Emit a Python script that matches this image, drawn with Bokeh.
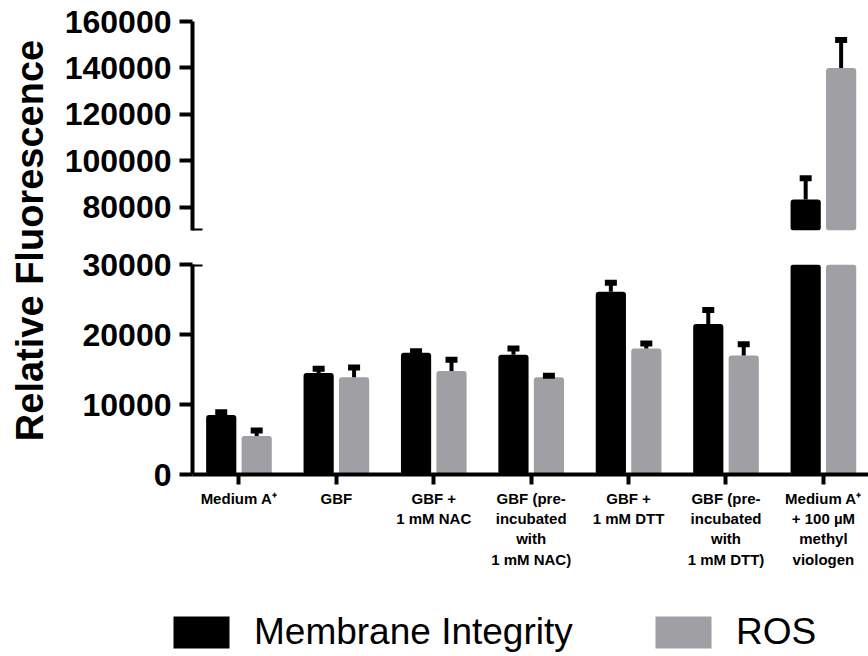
from bokeh.plotting import figure
from bokeh.models import (Range1d, FixedTicker, ColumnDataSource, Label, Legend,
                          LegendItem, BoxAnnotation, NumeralTickFormatter)
from bokeh.layouts import row, column
from bokeh.embed import file_html
from bokeh.resources import INLINE

# ---------------- data ----------------
categories = [
    "Medium A\u207a",
    "GBF",
    "GBF +\n1 mM NAC",
    "GBF (pre-\nincubated\nwith\n1 mM NAC)",
    "GBF +\n1 mM DTT",
    "GBF (pre-\nincubated\nwith\n1 mM DTT)",
    "Medium A\u207a\n+ 100 \u00b5M\nmethyl\nviologen",
]
membrane = [8500, 14500, 17400, 17100, 26100, 21500, 83300]
membrane_err = [400, 600, 200, 900, 1300, 2000, 9200]
ros = [5500, 13900, 14800, 13900, 18000, 17000, 140000]
ros_err = [800, 1400, 1600, 200, 700, 1600, 12000]
series_names = ["Membrane Integrity", "ROS"]
series_colors = ["#000000", "#A0A0A4"]
lower_ticks = [0, 10000, 20000, 30000]
upper_ticks = [80000, 100000, 120000, 140000, 160000]
lower_range = (0, 30000)
upper_range = (70000, 160000)
y_label = "Relative Fluorescence"

idx = list(range(len(categories)))
offsets = [-0.182, 0.182]
FONT = "Liberation Sans"


def make_source(vals, errs, off, ymin):
    keep = [i for i in idx if vals[i] + errs[i] > ymin]
    return dict(x=[i + off for i in keep],
                top=[vals[i] for i in keep],
                err_top=[vals[i] + errs[i] for i in keep])


def make_panel(h, yr, ticks, btop, bbot, with_xaxis):
    p = figure(width=810, height=h,
               x_range=Range1d(-0.477, 6.463), y_range=Range1d(*yr),
               output_backend="svg", toolbar_location=None,
               x_axis_location="below" if with_xaxis else None,
               min_border_left=134, min_border_right=0,
               min_border_top=btop, min_border_bottom=bbot)
    p.outline_line_color = None
    p.grid.visible = False
    p.background_fill_color = "white"
    p.border_fill_color = "white"

    srcs = [ColumnDataSource(make_source(membrane, membrane_err, offsets[0], yr[0])),
            ColumnDataSource(make_source(ros, ros_err, offsets[1], yr[0]))]
    for src, col in zip(srcs, series_colors):
        p.vbar(x="x", top="top", bottom=0, width=0.31, source=src,
               fill_color=col, line_color=None, border_radius=3)
    for src in srcs:
        p.segment(x0="x", y0="top", x1="x", y1="err_top", source=src,
                  line_color="black", line_width=4)
        p.rect(x="x", y="err_top", width=12, height=6, width_units="screen",
               height_units="screen", source=src, fill_color="black",
               line_color=None)

    ya = p.yaxis[0]
    ya.ticker = FixedTicker(ticks=ticks)
    ya.formatter = NumeralTickFormatter(format="0")
    ya.axis_line_width = 4
    ya.major_tick_line_width = 4
    ya.major_tick_out = 13
    ya.major_tick_in = 0
    ya.minor_tick_line_color = None
    ya.major_label_text_font = FONT
    ya.major_label_text_font_style = "bold"
    ya.major_label_text_font_size = "32px"
    ya.major_label_text_color = "black"
    ya.major_label_standoff = 8

    if with_xaxis:
        xa = p.xaxis[0]
        xa.ticker = FixedTicker(ticks=idx)
        xa.major_label_overrides = {i: c for i, c in zip(idx, categories)}
        xa.axis_line_width = 4
        xa.major_tick_line_width = 4
        xa.major_tick_out = 10
        xa.major_tick_in = 0
        xa.minor_tick_line_color = None
        xa.major_label_text_font = FONT
        xa.major_label_text_font_style = "bold"
        xa.major_label_text_font_size = "15px"
        xa.major_label_text_color = "black"
        xa.major_label_standoff = 5
    return p


top = make_panel(244, upper_range, upper_ticks, 21, 14, False)
bot = make_panel(336, lower_range, lower_ticks, 20, 106, True)

# axis-break caps
top.add_layout(BoxAnnotation(left=-13, right=10, left_units="screen", right_units="screen",
                             bottom=upper_range[0] - 900, top=upper_range[0] + 900,
                             fill_color="black", fill_alpha=1, line_color=None))
bot.add_layout(BoxAnnotation(left=0, right=10, left_units="screen", right_units="screen",
                             bottom=lower_range[1] - 290, top=lower_range[1] + 290,
                             fill_color="black", fill_alpha=1, line_color=None))

# y-axis title panel
lab = figure(width=58, height=580, x_range=Range1d(0, 58), y_range=Range1d(0, 580),
             output_backend="svg", toolbar_location=None,
             x_axis_location=None, y_axis_location=None, min_border=0)
lab.outline_line_color = None
lab.grid.visible = False
lab.add_layout(Label(x=29, y=340, text=y_label, angle=90, angle_units="deg",
                     text_align="center", text_baseline="middle",
                     text_font=FONT, text_font_style="bold", text_font_size="38px",
                     text_color="black"))

# legend panel
leg = figure(width=868, height=76, x_range=Range1d(0, 868), y_range=Range1d(0, 76),
             output_backend="svg", toolbar_location=None,
             x_axis_location=None, y_axis_location=None, min_border=0)
leg.outline_line_color = None
leg.grid.visible = False
leg_pos = [(166, 3), (648, 3)]
leg_data = [(membrane, membrane_err, offsets[0]), (ros, ros_err, offsets[1])]
for name, col, pos, (v, e, o) in zip(series_names, series_colors, leg_pos, leg_data):
    r = leg.vbar(x="x", top="top", bottom=0, width=0.31,
                 source=ColumnDataSource(make_source(v, e, o, lower_range[0])),
                 fill_color=col, line_color=None, visible=False)
    lg = Legend(items=[LegendItem(label=name, renderers=[r])], location=pos,
                orientation="horizontal", glyph_width=70, glyph_height=40,
                label_height=40, label_standoff=18,
                label_text_font=FONT, label_text_font_size="37px",
                label_text_color="black", padding=0, margin=0, spacing=0,
                border_line_color=None, background_fill_alpha=0)
    leg.add_layout(lg)

layout = column(row(lab, column(top, bot)), leg)
open("out.html", "w").write(file_html(layout, INLINE))
